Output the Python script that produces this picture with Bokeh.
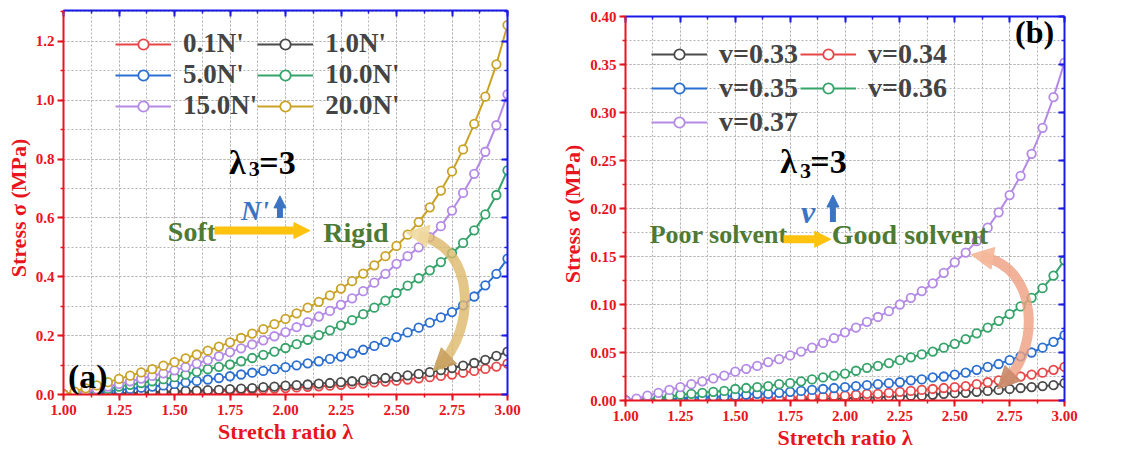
from bokeh.plotting import figure
from bokeh.layouts import row
from bokeh.models import (LinearAxis, SingleIntervalTicker, NumeralTickFormatter, Legend, LegendItem,
                          Label, Arrow, NormalHead, ColumnDataSource)
from bokeh.embed import file_html
from bokeh.resources import INLINE

# ---------------- data ----------------
stretch = [1.00, 1.05, 1.10, 1.15, 1.20, 1.25, 1.30, 1.35, 1.40, 1.45,
           1.50, 1.55, 1.60, 1.65, 1.70, 1.75, 1.80, 1.85, 1.90, 1.95,
           2.00, 2.05, 2.10, 2.15, 2.20, 2.25, 2.30, 2.35, 2.40, 2.45,
           2.50, 2.55, 2.60, 2.65, 2.70, 2.75, 2.80, 2.85, 2.90, 2.95, 3.00]

# panel (a): stress (MPa) for different N'
a_labels = ["0.1N'", "1.0N'", "5.0N'", "10.0N'", "15.0N'", "20.0N'"]
a_N01 = [0.000, 0.000, 0.000, 0.001, 0.001, 0.002, 0.003, 0.004, 0.005, 0.006,
         0.007, 0.008, 0.009, 0.010, 0.012, 0.013, 0.015, 0.016, 0.018, 0.020,
         0.022, 0.024, 0.026, 0.028, 0.030, 0.033, 0.035, 0.038, 0.041, 0.044,
         0.047, 0.051, 0.055, 0.059, 0.063, 0.068, 0.074, 0.080, 0.087, 0.095, 0.105]
a_N1 = [0.000, 0.000, 0.001, 0.002, 0.003, 0.004, 0.005, 0.006, 0.008, 0.009,
        0.010, 0.012, 0.013, 0.015, 0.016, 0.018, 0.020, 0.022, 0.025, 0.027,
        0.030, 0.032, 0.034, 0.037, 0.039, 0.042, 0.045, 0.048, 0.052, 0.056,
        0.060, 0.065, 0.070, 0.076, 0.083, 0.090, 0.098, 0.107, 0.118, 0.131, 0.146]
a_N5 = [0.000, 0.001, 0.003, 0.006, 0.010, 0.015, 0.019, 0.023, 0.027, 0.031,
        0.036, 0.041, 0.046, 0.051, 0.056, 0.062, 0.068, 0.074, 0.080, 0.086,
        0.093, 0.099, 0.106, 0.113, 0.121, 0.129, 0.140, 0.152, 0.165, 0.179,
        0.195, 0.211, 0.227, 0.244, 0.262, 0.280, 0.303, 0.333, 0.371, 0.410, 0.462]
a_N10 = [0.000, 0.002, 0.006, 0.012, 0.019, 0.027, 0.033, 0.039, 0.045, 0.052,
         0.059, 0.068, 0.077, 0.086, 0.094, 0.102, 0.113, 0.124, 0.135, 0.146,
         0.158, 0.171, 0.186, 0.202, 0.218, 0.235, 0.253, 0.273, 0.295, 0.319,
         0.345, 0.370, 0.395, 0.422, 0.450, 0.480, 0.515, 0.558, 0.612, 0.678, 0.762]
a_N15 = [0.000, 0.004, 0.010, 0.018, 0.027, 0.036, 0.045, 0.054, 0.063, 0.072,
         0.082, 0.093, 0.105, 0.117, 0.130, 0.144, 0.157, 0.170, 0.184, 0.198,
         0.212, 0.229, 0.246, 0.265, 0.284, 0.305, 0.327, 0.351, 0.380, 0.410,
         0.444, 0.470, 0.500, 0.535, 0.572, 0.625, 0.685, 0.750, 0.825, 0.915, 1.020]
a_N20 = [0.000, 0.010, 0.021, 0.031, 0.042, 0.053, 0.064, 0.075, 0.086, 0.098,
         0.110, 0.123, 0.136, 0.149, 0.163, 0.177, 0.192, 0.207, 0.222, 0.239,
         0.257, 0.276, 0.295, 0.315, 0.337, 0.360, 0.385, 0.411, 0.439, 0.470,
         0.505, 0.543, 0.586, 0.636, 0.693, 0.758, 0.833, 0.920, 1.012, 1.122, 1.255]
a_series = [a_N01, a_N1, a_N5, a_N10, a_N15, a_N20]
a_colors = ["#E8474A", "#4A4A4A", "#2B6FD1", "#35A36A", "#B48AE6", "#C9A227"]

# panel (b): stress (MPa) for different v
b_labels = ["v=0.33", "v=0.34", "v=0.35", "v=0.36", "v=0.37"]
b_v33 = [0.000, 0.000, 0.000, 0.000, 0.000, 0.000, 0.000, 0.000, 0.000, 0.000,
         0.000, 0.000, 0.001, 0.001, 0.001, 0.001, 0.001, 0.002, 0.002, 0.002,
         0.002, 0.003, 0.003, 0.003, 0.004, 0.004, 0.005, 0.005, 0.006, 0.007,
         0.0076, 0.008, 0.009, 0.010, 0.011, 0.012, 0.013, 0.014, 0.015, 0.016, 0.018]
b_v34 = [0.000, 0.000, 0.000, 0.000, 0.000, 0.000, 0.000, 0.001, 0.001, 0.001,
         0.001, 0.001, 0.002, 0.002, 0.002, 0.003, 0.003, 0.004, 0.004, 0.005,
         0.005, 0.006, 0.007, 0.007, 0.008, 0.009, 0.010, 0.011, 0.012, 0.013,
         0.014, 0.015, 0.017, 0.019, 0.021, 0.023, 0.025, 0.027, 0.029, 0.032, 0.035]
b_v35 = [0.000, 0.000, 0.000, 0.001, 0.001, 0.002, 0.003, 0.003, 0.004, 0.004,
         0.005, 0.006, 0.007, 0.007, 0.008, 0.009, 0.010, 0.011, 0.012, 0.013,
         0.014, 0.015, 0.016, 0.017, 0.018, 0.019, 0.021, 0.022, 0.024, 0.025,
         0.027, 0.029, 0.032, 0.035, 0.038, 0.042, 0.046, 0.050, 0.055, 0.061, 0.068]
b_v36 = [0.000, 0.000, 0.001, 0.003, 0.004, 0.006, 0.007, 0.008, 0.009, 0.010,
         0.012, 0.013, 0.014, 0.015, 0.017, 0.018, 0.020, 0.022, 0.024, 0.026,
         0.028, 0.031, 0.034, 0.036, 0.039, 0.042, 0.045, 0.048, 0.051, 0.055,
         0.059, 0.064, 0.070, 0.076, 0.083, 0.090, 0.098, 0.107, 0.117, 0.130, 0.146]
b_v37 = [0.000, 0.002, 0.005, 0.008, 0.011, 0.014, 0.017, 0.020, 0.023, 0.026,
         0.030, 0.033, 0.036, 0.040, 0.043, 0.047, 0.051, 0.055, 0.060, 0.065,
         0.071, 0.076, 0.082, 0.087, 0.093, 0.100, 0.107, 0.114, 0.122, 0.133,
         0.144, 0.154, 0.166, 0.180, 0.196, 0.214, 0.234, 0.257, 0.284, 0.316, 0.352]
b_series = [b_v33, b_v34, b_v35, b_v36, b_v37]
b_colors = ["#4A4A4A", "#E8474A", "#2B6FD1", "#35A36A", "#B48AE6"]

x_ticks_interval = 0.25
a_y_interval = 0.2
b_y_interval = 0.05

# ---------------- style ----------------
SERIF = "Liberation Serif"
RED = "#E8141E"
BLUE_AX = "#1A1AE6"
GREEN_T = "#4E7A34"
BLUE_T = "#3C74C4"
GOLD_AR = "#FFC20E"


def make_panel(series, labels, colors, ymax, yint, yfmt, borders, frame):
    bl, bt, bb, br = borders
    p = figure(frame_width=frame[0], frame_height=frame[1], x_range=(1.0, 3.0), y_range=(0, ymax),
               output_backend="svg", toolbar_location=None,
               min_border_left=bl, min_border_top=bt, min_border_bottom=bb, min_border_right=br,
               background_fill_color="white", border_fill_color="white")
    p.outline_line_color = None
    xt = SingleIntervalTicker(interval=x_ticks_interval, num_minor_ticks=2)
    yt = SingleIntervalTicker(interval=yint, num_minor_ticks=2)
    p.xaxis.ticker = xt
    p.yaxis.ticker = yt
    p.xgrid.ticker = xt
    p.ygrid.ticker = yt
    for g in (p.xgrid, p.ygrid):
        g.grid_line_color = "#B5B5B5"
        g.grid_line_dash = "2 2"
        g.grid_line_width = 1
        g.minor_grid_line_color = "#B5B5B5"
        g.minor_grid_line_dash = "2 2"
        g.minor_grid_line_width = 1
    for ax, fmt in ((p.xaxis[0], "0.00"), (p.yaxis[0], yfmt)):
        ax.formatter = NumeralTickFormatter(format=fmt)
        ax.axis_line_color = RED
        ax.axis_line_width = 2
        ax.major_tick_line_color = RED
        ax.minor_tick_line_color = RED
        ax.major_tick_line_width = 2
        ax.minor_tick_line_width = 1.5
        ax.major_tick_out = 6
        ax.major_tick_in = 0
        ax.minor_tick_out = 3
        ax.minor_tick_in = 0
        ax.major_label_text_color = RED
        ax.major_label_text_font = SERIF
        ax.major_label_text_font_style = "bold"
        ax.major_label_text_font_size = "15px"
        ax.axis_label_text_color = RED
        ax.axis_label_text_font = SERIF
        ax.axis_label_text_font_style = "bold"
        ax.axis_label_text_font_size = "22px"
    p.xaxis.axis_label = "Stretch ratio λ"
    p.xaxis.axis_label_standoff = 1
    p.xaxis.major_label_standoff = 4
    p.yaxis.axis_label = "Stress  σ  (MPa)"
    p.yaxis.axis_label_standoff = 2
    p.yaxis.major_label_standoff = 3
    for loc in ("above", "right"):
        ax = LinearAxis(ticker=SingleIntervalTicker(interval=(x_ticks_interval if loc == "above" else yint),
                                                    num_minor_ticks=2))
        ax.axis_line_color = BLUE_AX
        ax.axis_line_width = 2
        ax.major_tick_line_color = BLUE_AX
        ax.minor_tick_line_color = BLUE_AX
        ax.major_tick_line_width = 2
        ax.minor_tick_line_width = 1.5
        ax.major_tick_in = 6
        ax.major_tick_out = 0
        ax.minor_tick_in = 3
        ax.minor_tick_out = 0
        ax.major_label_text_color = None
        ax.major_label_text_font_size = "1px"
        ax.major_label_standoff = 0
        ax.axis_label_standoff = 0
        p.add_layout(ax, loc)

    items = []
    for ys, lab_, col in zip(series, labels, colors):
        src = ColumnDataSource(dict(x=stretch, y=ys))
        r1 = p.line("x", "y", source=src, line_color=col, line_width=2)
        r2 = p.scatter("x", "y", source=src, marker="circle", size=8.5, fill_color="white",
                       line_color=col, line_width=1.8)
        items.append(LegendItem(label=lab_, renderers=[r1, r2]))
    return p, items


def style_legend(lg, font, spacing):
    lg.orientation = "horizontal"
    lg.ncols = 2
    lg.background_fill_alpha = 0
    lg.border_line_color = None
    lg.label_text_font = SERIF
    lg.label_text_font_style = "bold"
    lg.label_text_font_size = font
    lg.glyph_width = 56
    lg.glyph_height = 26
    lg.label_height = 26
    lg.label_standoff = 12
    lg.spacing = spacing
    lg.padding = 0
    lg.margin = 0


def lab(p, x, y, text, size, color="black", style="bold", align="left"):
    p.add_layout(Label(x=x, y=y, text=text, text_font=SERIF, text_font_style=style,
                       text_font_size=size, text_color=color, text_align=align,
                       text_baseline="alphabetic"))


# ---------------- panel (a) ----------------
pa, items_a = make_panel(a_series, a_labels, a_colors, 1.305, a_y_interval, "0.0",
                         (63, 10, 58, 53), (444, 384))
pa.styles = {"margin-top": "-6px"}
lga = Legend(items=items_a, location=(52, 273))
style_legend(lga, "27px", 0)
pa.add_layout(lga, "center")

lab(pa, 1.745, 0.790, "λ", "34px")
lab(pa, 1.835, 0.767, "3", "22px")
lab(pa, 1.882, 0.790, "=3", "34px")
lab(pa, 1.80, 0.626, "N'", "28px", BLUE_T, "bold italic")
pa.add_layout(Arrow(x_start=1.975, y_start=0.600, x_end=1.975, y_end=0.675, line_color=BLUE_T,
                    line_width=6, end=NormalHead(size=12, fill_color=BLUE_T, line_color=BLUE_T)))
lab(pa, 1.47, 0.554, "Soft", "28px", GREEN_T)
pa.add_layout(Arrow(x_start=1.68, y_start=0.557, x_end=2.11, y_end=0.557, line_color=GOLD_AR,
                    line_width=8, end=NormalHead(size=16, fill_color=GOLD_AR, line_color=GOLD_AR)))
lab(pa, 2.17, 0.549, "Rigid", "28px", GREEN_T)
lab(pa, 1.02, 0.062, "(a)", "34px")
pa.bezier(x0=[2.69], y0=[0.095], x1=[2.60], y1=[0.540], cx0=[2.86], cy0=[0.22], cx1=[2.86], cy1=[0.50],
          line_color="#DDB96A", line_width=10, line_alpha=0.8)
pa.add_layout(Arrow(x_start=2.63, y_start=0.54, x_end=2.545, y_end=0.55, line_alpha=0,
                    end=NormalHead(size=22, fill_color="#F0D9A0", line_color="#F0D9A0", fill_alpha=0.9)))
pa.add_layout(Arrow(x_start=2.72, y_start=0.12, x_end=2.665, y_end=0.08, line_alpha=0,
                    end=NormalHead(size=22, fill_color="#C9A060", line_color="#C9A060", fill_alpha=0.9)))

# ---------------- panel (b) ----------------
pb, items_b = make_panel(b_series, b_labels, b_colors, 0.40, b_y_interval, "0.00",
                         (63, 16, 52, 62), (439, 384))
pb.styles = {"margin-left": "-3px"}
lgb = Legend(items=items_b, location=(26, 262))
style_legend(lgb, "28px", 2)
pb.add_layout(lgb, "center")

lab(pb, 1.705, 0.249, "λ", "34px")
lab(pb, 1.795, 0.239, "3", "22px")
lab(pb, 1.842, 0.249, "=3", "34px")
lab(pb, 1.80, 0.196, "v", "32px", BLUE_T, "bold italic")
pb.add_layout(Arrow(x_start=1.945, y_start=0.186, x_end=1.945, y_end=0.214, line_color=BLUE_T,
                    line_width=6, end=NormalHead(size=12, fill_color=BLUE_T, line_color=BLUE_T)))
lab(pb, 1.11, 0.173, "Poor solvent", "26px", GREEN_T)
pb.add_layout(Arrow(x_start=1.72, y_start=0.168, x_end=1.935, y_end=0.168, line_color=GOLD_AR,
                    line_width=8, end=NormalHead(size=16, fill_color=GOLD_AR, line_color=GOLD_AR)))
lab(pb, 1.94, 0.173, "Good solvent", "28px", GREEN_T)
lab(pb, 2.775, 0.384, "(b)", "32px")
pb.bezier(x0=[2.72], y0=[0.018], x1=[2.62], y1=[0.150], cx0=[2.89], cy0=[0.05], cx1=[2.89], cy1=[0.14],
          line_color="#EE9F80", line_width=10, line_alpha=0.8)
pb.add_layout(Arrow(x_start=2.65, y_start=0.149, x_end=2.575, y_end=0.152, line_alpha=0,
                    end=NormalHead(size=22, fill_color="#F5B89A", line_color="#F5B89A", fill_alpha=0.9)))
pb.add_layout(Arrow(x_start=2.75, y_start=0.025, x_end=2.695, y_end=0.012, line_alpha=0,
                    end=NormalHead(size=22, fill_color="#C98A6A", line_color="#C98A6A", fill_alpha=0.9)))

layout = row(pa, pb)
open("out.html", "w").write(file_html(layout, INLINE))
